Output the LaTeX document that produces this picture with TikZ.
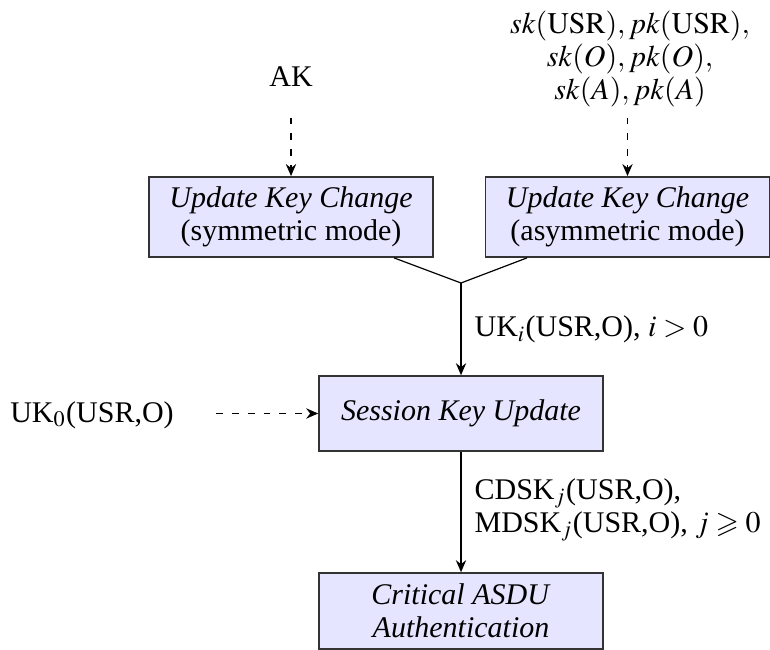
\documentclass[tikz,border=0pt]{standalone}
\usepackage{mathptmx}
\usepackage{amssymb}
\usepackage{fontspec}
\setmainfont{Liberation Serif}
\usetikzlibrary{calc,arrows.meta}
\tikzset{
  boxnode/.style={draw=black!80, line width=0.5pt, fill=blue!10, minimum width=94.67pt, minimum height=#1,
    align=center, inner sep=3.33pt, font=\fontsize{10}{11}\selectfont},
  txt/.style={inner sep=3.33pt, font=\fontsize{10}{11}\selectfont},
  tip/.style={-{Stealth[length=4pt, width=3.4pt, inset=1.3pt]}},
  dasharrow/.style={tip, line width=0.65pt, dash pattern=on 2.3pt off 3pt},
  solidarrow/.style={tip, line width=0.65pt},
  joinline/.style={line width=0.4pt}
}
\begin{document}
\begin{tikzpicture}[x=0.33333pt, y=-0.33333pt]
\useasboundingbox (0,0) rectangle (770,650);
% inputs
\node[txt, anchor=base] (AK) at (291,87) {AK};
\node[txt, align=center] (SK) at (630,59) {$sk(\mathrm{USR}), pk(\mathrm{USR}),$\\ $sk(O), pk(O),$\\ $sk(A), pk(A)$};
% boxes
\node[boxnode=26.67pt] (L) at (291,217) {\textit{Update Key Change}\\(symmetric mode)};
\node[boxnode=26.67pt] (R) at (627.5,217) {\textit{Update Key Change}\\(asymmetric mode)};
\node[boxnode=25pt] (S) at (461,413.5) {\textit{Session Key Update}};
\node[boxnode=25.33pt] (C) at (461,611) {\textit{Critical ASDU}\\\textit{Authentication}};
\node[txt, anchor=base] (U0) at (92,422) {UK$_0$(USR,O)};
% junction
\coordinate (J) at (461,283);
\coordinate (Ja) at (394,257);
\coordinate (Jb) at (527,257);
% connectors
\draw[dasharrow, shorten <=6.67pt] (AK) -- (L);
\draw[dasharrow] (SK.south -| R.north) -- (R.north);
\draw[joinline] (Ja |- L.south) -- (J) -- (Jb |- R.south);
\draw[solidarrow] (J) -- (S.north);
\draw[dasharrow, shorten <=10.5pt] (U0.east |- S.west) -- (S.west);
\draw[solidarrow] (S.south) -- (C.north);
% labels
\node[txt, anchor=base west, inner xsep=1pt] (LUK) at (471,337) {UK$_i$(USR,O), $i > 0$};
\node[txt, anchor=west, align=left, inner xsep=1pt] (LDS) at (471,510) {CDSK$_j$(USR,O),\\MDSK$_j$(USR,O), $j \geqslant 0$};
\end{tikzpicture}
\end{document}
